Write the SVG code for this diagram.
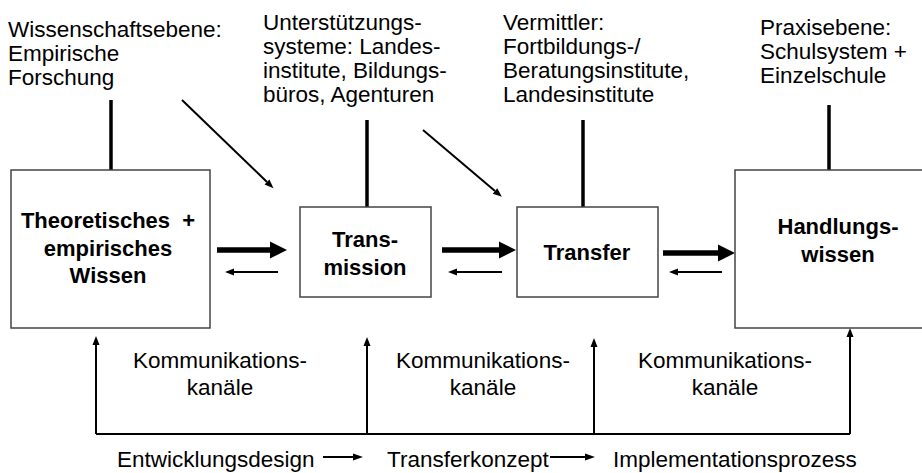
<svg xmlns="http://www.w3.org/2000/svg" width="922" height="473" viewBox="0 0 922 473">
<defs>
<style>
text{font-family:"Liberation Sans",Arial,sans-serif;font-size:22.5px;fill:#000}
.b{font-weight:bold;text-anchor:middle;font-size:22px}
.m{text-anchor:middle}
.box{fill:#fff;stroke:#444;stroke-width:1.5}
.vt{stroke:#000;stroke-width:3.5;fill:none}
.thin{stroke:#000;stroke-width:2;fill:none}
.thick{stroke:#000;stroke-width:5.5;fill:none}
</style>
<marker id="hk" markerUnits="userSpaceOnUse" markerWidth="18" markerHeight="17" refX="0" refY="8.5" orient="auto" overflow="visible">
<path d="M0,0 L17,8.5 L0,17 z" fill="#000"/>
</marker>
<marker id="hs" markerUnits="userSpaceOnUse" markerWidth="10" markerHeight="8" refX="0" refY="3.5" orient="auto" overflow="visible">
<path d="M0,0 L9,3.5 L0,7 z" fill="#000"/>
</marker>
<marker id="hb" markerUnits="userSpaceOnUse" markerWidth="11" markerHeight="8" refX="0" refY="3.5" orient="auto" overflow="visible">
<path d="M0,0 L10,3.5 L0,7 z" fill="#000"/>
</marker>
</defs>
<rect width="922" height="473" fill="#fff"/>

<g id="connectors">
<line class="vt" x1="111" y1="100" x2="111" y2="170"/>
<line class="vt" x1="367" y1="120" x2="367" y2="207"/>
<line class="vt" x1="583" y1="120" x2="583" y2="207"/>
<line class="vt" x1="829" y1="105" x2="829" y2="170"/>
<line class="thin" x1="182" y1="100" x2="267" y2="182" marker-end="url(#hs)"/>
<line class="thin" x1="423" y1="130" x2="495" y2="191" marker-end="url(#hs)"/>
<line class="thick" x1="217" y1="250" x2="270" y2="250" marker-end="url(#hk)"/>
<line class="thick" x1="442" y1="250" x2="499" y2="250" marker-end="url(#hk)"/>
<line class="thick" x1="663" y1="253" x2="718" y2="253" marker-end="url(#hk)"/>
<line class="thin" x1="278" y1="272" x2="234" y2="272" marker-end="url(#hs)"/>
<line class="thin" x1="502" y1="272" x2="457" y2="272" marker-end="url(#hs)"/>
<line class="thin" x1="722" y1="272" x2="678" y2="272" marker-end="url(#hs)"/>
<polyline class="thin" points="96,434 850,434"/>
<line class="thin" x1="96" y1="434" x2="96" y2="345" marker-end="url(#hs)"/>
<line class="thin" x1="367" y1="434" x2="367" y2="346" marker-end="url(#hs)"/>
<line class="thin" x1="594" y1="434" x2="594" y2="347" marker-end="url(#hs)"/>
<line class="thin" x1="850" y1="434" x2="850" y2="337" marker-end="url(#hs)"/>
<line class="thin" x1="323" y1="457" x2="353" y2="457" marker-end="url(#hb)"/>
<line class="thin" x1="550" y1="457" x2="585" y2="457" marker-end="url(#hb)"/>
</g>

<g id="node-theorie">
<rect class="box" x="11" y="170" width="199" height="158"/>
<text class="b" x="108" y="228" style="white-space:pre">Theoretisches  +</text>
<text class="b" x="108" y="256">empirisches</text>
<text class="b" x="108" y="283">Wissen</text>
</g>
<g id="node-transmission">
<rect class="box" x="300" y="207" width="131" height="90"/>
<text class="b" x="365" y="247">Trans-</text>
<text class="b" x="365" y="275">mission</text>
</g>
<g id="node-transfer">
<rect class="box" x="517" y="207" width="141" height="90"/>
<text class="b" x="587" y="260">Transfer</text>
</g>
<g id="node-handlung">
<rect class="box" x="735" y="170" width="200" height="158"/>
<text class="b" x="838" y="234">Handlungs-</text>
<text class="b" x="838" y="262">wissen</text>
</g>

<g id="label-wissenschaft">
<text x="8" y="37">Wissenschaftsebene:</text>
<text x="8" y="61">Empirische</text>
<text x="8" y="85">Forschung</text>
</g>
<g id="label-unterstuetzung">
<text x="263" y="30">Unterstützungs-</text>
<text x="263" y="54">systeme: Landes-</text>
<text x="263" y="78">institute, Bildungs-</text>
<text x="263" y="102">büros, Agenturen</text>
</g>
<g id="label-vermittler">
<text x="503" y="30">Vermittler:</text>
<text x="503" y="54">Fortbildungs-/</text>
<text x="503" y="78">Beratungsinstitute,</text>
<text x="503" y="102">Landesinstitute</text>
</g>
<g id="label-praxis">
<text x="760" y="35">Praxisebene:</text>
<text x="760" y="59">Schulsystem +</text>
<text x="760" y="83">Einzelschule</text>
</g>

<g id="label-kanal1">
<text class="m" x="220" y="368">Kommunikations-</text>
<text class="m" x="220" y="395">kanäle</text>
</g>
<g id="label-kanal2">
<text class="m" x="483" y="368">Kommunikations-</text>
<text class="m" x="483" y="395">kanäle</text>
</g>
<g id="label-kanal3">
<text class="m" x="725" y="368">Kommunikations-</text>
<text class="m" x="725" y="395">kanäle</text>
</g>

<g id="label-bottom">
<text x="117" y="467">Entwicklungsdesign</text>
<text x="387" y="467">Transferkonzept</text>
<text x="613" y="467">Implementationsprozess</text>
</g>
</svg>
